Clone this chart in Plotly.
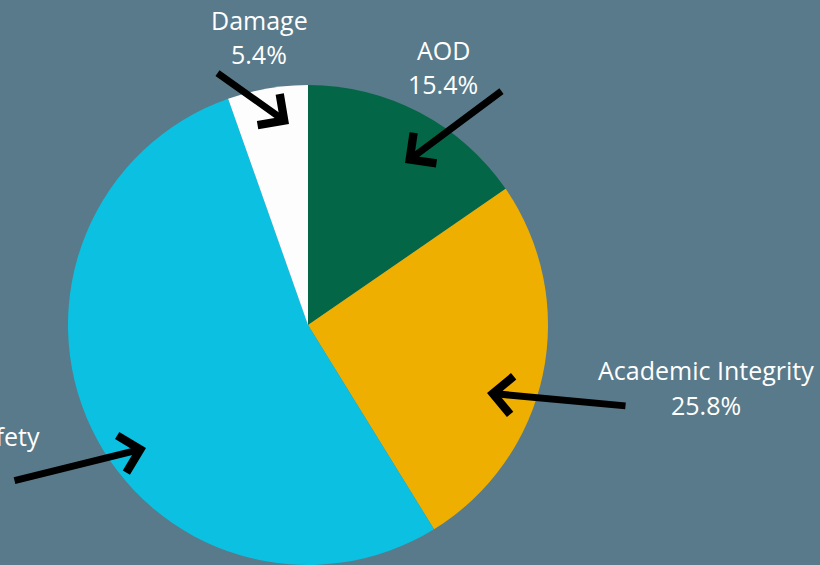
import plotly.graph_objects as go

categories = ["AOD", "Academic Integrity", "Safety", "Damage"]
values = [15.4, 25.8, 53.4, 5.4]
colors = ["#036646", "#EFAF00", "#0BC0E0", "#FDFDFD"]
pct_labels = ["15.4%", "25.8%", "53.4%", "5.4%"]

W, H = 820, 565
BG = "#587A8A"

def px(x):
    return x / W

def py(y):
    return 1 - y / H

fig = go.Figure(go.Pie(
    labels=categories, values=values, sort=False, direction="clockwise",
    rotation=0, marker=dict(colors=colors, line=dict(width=0)),
    textinfo="none", hoverinfo="label+percent", showlegend=False,
    domain=dict(x=[px(68), px(548)], y=[py(565), py(85)]),
))

font = dict(family="Open Sans, sans-serif", size=25, color="white")
ann = []
label_pos = {
    "Damage": (259, 20, 54),
    "AOD": (443, 50, 84),
    "Academic Integrity": (706, 370, 405),
}
for name, pct in zip(categories, pct_labels):
    if name in label_pos:
        x, y1, y2 = label_pos[name]
        ann.append(dict(x=px(x), y=py(y1), text=name, showarrow=False, font=font, xanchor="center", yanchor="middle"))
        ann.append(dict(x=px(x), y=py(y2), text=pct, showarrow=False, font=font, xanchor="center", yanchor="middle"))
# Safety label, partly off the left edge as in the reference
ann.append(dict(x=px(42), y=py(436), text="Safety", showarrow=False, font=font, xanchor="right", yanchor="middle"))

# arrows: (tail_x, tail_y, head_x, head_y)
arrows = [(216, 72, 289, 124), (503, 90, 405, 163), (627, 406, 487, 393), (13, 481, 146, 448)]
for tx, ty, hx, hy in arrows:
    ann.append(dict(x=px(hx), y=py(hy), ax=tx - hx, ay=ty - hy, axref="pixel", ayref="pixel",
                    text="", showarrow=True, arrowhead=4, arrowwidth=7, arrowsize=1.05,
                    arrowcolor="black", standoff=0, startstandoff=0))

fig.update_layout(
    width=W, height=H, margin=dict(l=0, r=0, t=0, b=0),
    paper_bgcolor=BG, plot_bgcolor=BG, annotations=ann,
)
fig.write_html("out.html", config={"displayModeBar": False},
               post_script="document.body.style.margin='0';document.body.style.background='%s';" % BG)
